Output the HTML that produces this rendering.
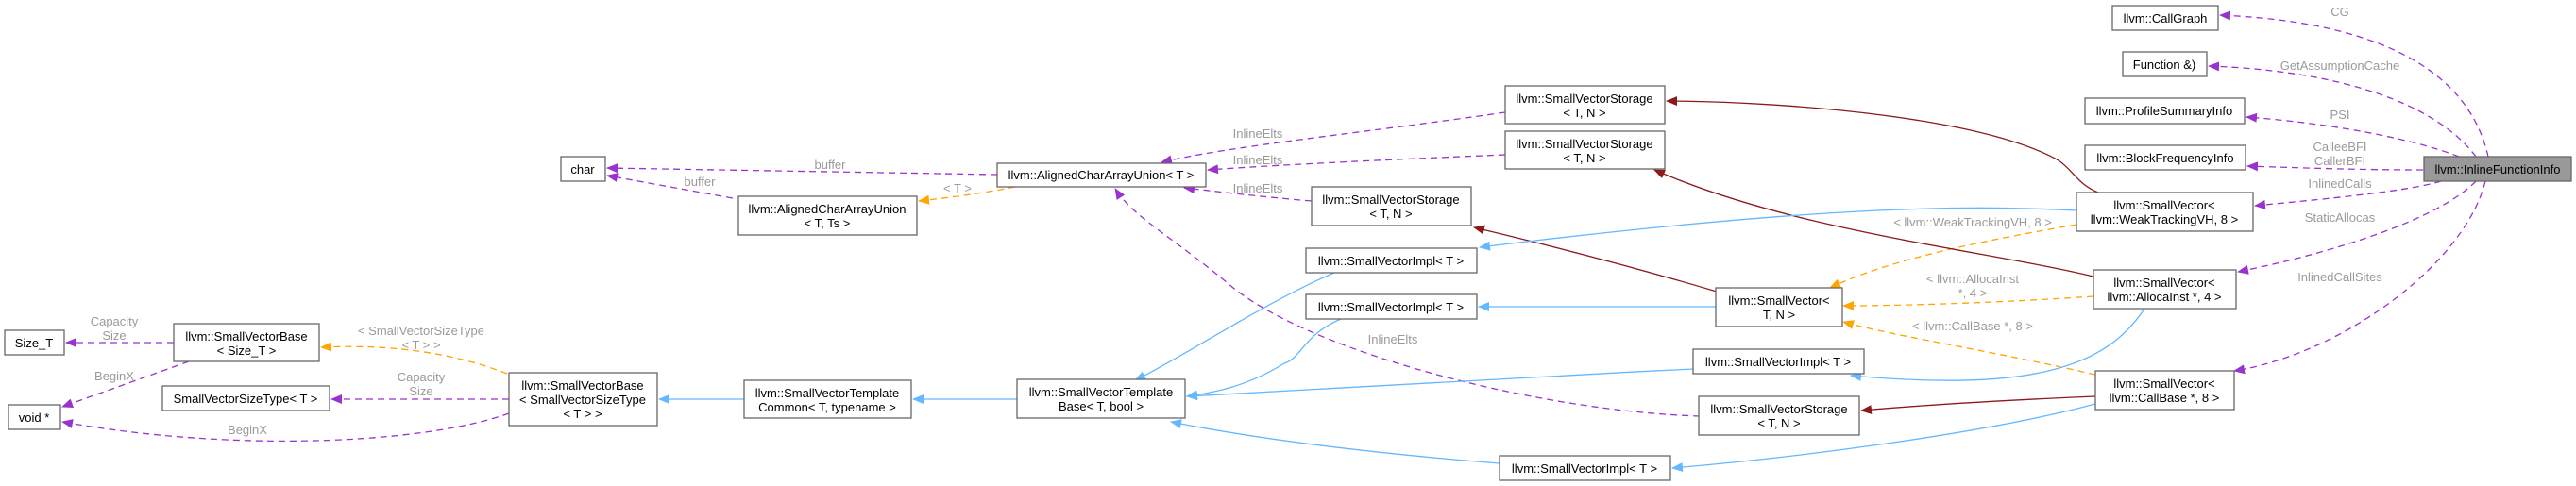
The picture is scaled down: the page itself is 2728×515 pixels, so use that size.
<!DOCTYPE html>
<html><head><meta charset="utf-8"><style>
html,body{margin:0;padding:0;background:#fff;}
svg{display:block;}
text{font-family:"Liberation Sans",Arial,sans-serif;font-size:13px;}
.n{fill:#fff;stroke:#666;stroke-width:1.3;}
.t{fill:#000;text-anchor:middle;}
.l{fill:#9a9a9a;text-anchor:middle;}
.p{fill:none;stroke:#9a32cd;stroke-width:1.3;stroke-dasharray:7,5;}
.o{fill:none;stroke:#ffa500;stroke-width:1.3;stroke-dasharray:7,5;}
.b{fill:none;stroke:#63b8ff;stroke-width:1.3;}
.r{fill:none;stroke:#8b1a1a;stroke-width:1.3;}
</style></head><body>
<svg width="2728" height="515" viewBox="0 0 2728 515" xmlns="http://www.w3.org/2000/svg">
<defs>
<marker id="mp" markerWidth="12" markerHeight="10" refX="11" refY="5" orient="auto" markerUnits="userSpaceOnUse"><path d="M0,0 L12,5 L0,10 z" fill="#9a32cd"/></marker>
<marker id="mo" markerWidth="12" markerHeight="10" refX="11" refY="5" orient="auto" markerUnits="userSpaceOnUse"><path d="M0,0 L12,5 L0,10 z" fill="#ffa500"/></marker>
<marker id="mb" markerWidth="12" markerHeight="10" refX="11" refY="5" orient="auto" markerUnits="userSpaceOnUse"><path d="M0,0 L12,5 L0,10 z" fill="#63b8ff"/></marker>
<marker id="mr" markerWidth="12" markerHeight="10" refX="11" refY="5" orient="auto" markerUnits="userSpaceOnUse"><path d="M0,0 L12,5 L0,10 z" fill="#8b1a1a"/></marker>
</defs>

<!-- purple edges from InlineFunctionInfo -->
<path class="p" marker-end="url(#mp)" d="M2635,166 C2620,100 2560,25 2351,16"/>
<path class="p" marker-end="url(#mp)" d="M2622,166 C2580,110 2480,75 2339,70"/>
<path class="p" marker-end="url(#mp)" d="M2604,166 C2550,145 2460,130 2379,124"/>
<path class="p" marker-end="url(#mp)" d="M2566,180 C2500,180 2440,178 2380,176"/>
<path class="p" marker-end="url(#mp)" d="M2585,192 C2550,203 2450,212 2388,218"/>
<path class="p" marker-end="url(#mp)" d="M2622,192 C2580,235 2460,270 2370,288"/>
<path class="p" marker-end="url(#mp)" d="M2632,192 C2610,280 2480,375 2366,393"/>
<text class="l" x="2478" y="17">CG</text>
<text class="l" x="2478" y="74">GetAssumptionCache</text>
<text class="l" x="2478" y="126">PSI</text>
<text class="l" x="2478" y="160">CalleeBFI</text>
<text class="l" x="2478" y="175">CallerBFI</text>
<text class="l" x="2478" y="199">InlinedCalls</text>
<text class="l" x="2478" y="235">StaticAllocas</text>
<text class="l" x="2478" y="298">InlinedCallSites</text>

<!-- purple others -->
<path class="p" marker-end="url(#mp)" d="M1056,185 L643,178"/>
<text class="l" x="879" y="179">buffer</text>
<path class="p" marker-end="url(#mp)" d="M776,210 L643,186"/>
<text class="l" x="741" y="197">buffer</text>
<path class="p" marker-end="url(#mp)" d="M1594,119 C1450,140 1300,155 1230,172"/>
<text class="l" x="1332" y="146">InlineElts</text>
<path class="p" marker-end="url(#mp)" d="M1594,164 C1450,170 1350,175 1279,180"/>
<text class="l" x="1332" y="174">InlineElts</text>
<path class="p" marker-end="url(#mp)" d="M1389,213 C1330,208 1290,203 1254,199"/>
<text class="l" x="1332" y="204">InlineElts</text>
<path class="p" marker-end="url(#mp)" d="M1800,441 C1620,435 1380,370 1300,300 C1240,250 1200,230 1181,200"/>
<text class="l" x="1475" y="364">InlineElts</text>
<path class="p" marker-end="url(#mp)" d="M184,363 L70,363"/>
<text class="l" x="121" y="345">Capacity</text>
<text class="l" x="121" y="360">Size</text>
<path class="p" marker-end="url(#mp)" d="M200,383 L66,431"/>
<text class="l" x="121" y="403">BeginX</text>
<path class="p" marker-end="url(#mp)" d="M539,423 L351,423"/>
<text class="l" x="446" y="404">Capacity</text>
<text class="l" x="446" y="419">Size</text>
<path class="p" marker-end="url(#mp)" d="M539,438 C450,470 250,480 66,447"/>
<text class="l" x="262" y="460">BeginX</text>

<!-- orange -->
<path class="o" marker-end="url(#mo)" d="M537,396 C470,370 400,365 340,368"/>
<text class="l" x="446" y="355">&lt; SmallVectorSizeType</text>
<text class="l" x="446" y="370">&lt; T &gt; &gt;</text>
<path class="o" marker-end="url(#mo)" d="M1075,198 C1040,205 1000,210 973,213"/>
<text class="l" x="1014" y="204">&lt; T &gt;</text>
<path class="o" marker-end="url(#mo)" d="M2199,238 C2100,255 2000,275 1938,305"/>
<text class="l" x="2089" y="240">&lt; llvm::WeakTrackingVH, 8 &gt;</text>
<path class="o" marker-end="url(#mo)" d="M2217,314 C2100,322 2000,324 1952,324"/>
<text class="l" x="2089" y="300">&lt; llvm::AllocaInst</text>
<text class="l" x="2089" y="315">*, 4 &gt;</text>
<path class="o" marker-end="url(#mo)" d="M2219,397 C2100,370 2000,355 1952,341"/>
<text class="l" x="2089" y="350">&lt; llvm::CallBase *, 8 &gt;</text>

<!-- dark red -->
<path class="r" marker-end="url(#mr)" d="M2222,204 C2200,195 2195,180 2180,170 C2100,125 1900,108 1765,107"/>
<path class="r" marker-end="url(#mr)" d="M2217,293 C2100,265 1900,245 1752,180"/>
<path class="r" marker-end="url(#mr)" d="M1818,309 C1720,280 1620,255 1561,241"/>
<path class="r" marker-end="url(#mr)" d="M2219,420 C2100,425 2030,430 1971,435"/>

<!-- blue -->
<path class="b" marker-end="url(#mb)" d="M2199,223 C2100,218 1950,215 1567,262"/>
<path class="b" marker-end="url(#mb)" d="M1818,325 L1566,325"/>
<path class="b" marker-end="url(#mb)" d="M2271,327 C2230,390 2150,415 1960,398"/>
<path class="b" marker-end="url(#mb)" d="M1413,289 C1340,320 1250,380 1202,403"/>
<path class="b" marker-end="url(#mb)" d="M1420,338 C1380,355 1378,380 1360,385 C1320,410 1285,416 1257,420"/>
<path class="b" marker-end="url(#mb)" d="M1794,391 C1600,400 1400,412 1257,420"/>
<path class="b" marker-end="url(#mb)" d="M1588,491 C1450,480 1330,465 1240,447"/>
<path class="b" marker-end="url(#mb)" d="M2219,428 C2100,460 1900,485 1771,496"/>
<path class="b" marker-end="url(#mb)" d="M1077,423 L967,423"/>
<path class="b" marker-end="url(#mb)" d="M788,423 L698,423"/>

<!-- nodes -->
<rect class="n" x="2237" y="6" width="112" height="26"/><text class="t" x="2293" y="24">llvm::CallGraph</text>
<rect class="n" x="2248" y="55" width="89" height="26"/><text class="t" x="2292" y="73">Function &amp;)</text>
<rect class="n" x="2208" y="104" width="169" height="27"/><text class="t" x="2292" y="122">llvm::ProfileSummaryInfo</text>
<rect class="n" x="2208" y="154" width="170" height="26"/><text class="t" x="2293" y="172">llvm::BlockFrequencyInfo</text>
<rect x="2567" y="166" width="156" height="26" fill="#999" stroke="#666" stroke-width="1.3"/><text class="t" x="2645" y="184">llvm::InlineFunctionInfo</text>
<rect class="n" x="2199" y="204" width="187" height="41"/><text class="t" x="2292" y="222">llvm::SmallVector&lt;</text><text class="t" x="2292" y="237">llvm::WeakTrackingVH, 8 &gt;</text>
<rect class="n" x="2217" y="286" width="151" height="41"/><text class="t" x="2292" y="304">llvm::SmallVector&lt;</text><text class="t" x="2292" y="319">llvm::AllocaInst *, 4 &gt;</text>
<rect class="n" x="2219" y="393" width="147" height="41"/><text class="t" x="2292" y="411">llvm::SmallVector&lt;</text><text class="t" x="2292" y="426">llvm::CallBase *, 8 &gt;</text>
<rect class="n" x="1817" y="305" width="134" height="41"/><text class="t" x="1884" y="323">llvm::SmallVector&lt;</text><text class="t" x="1884" y="338">T, N &gt;</text>
<rect class="n" x="1793" y="370" width="181" height="26"/><text class="t" x="1883" y="388">llvm::SmallVectorImpl&lt; T &gt;</text>
<rect class="n" x="1799" y="420" width="170" height="41"/><text class="t" x="1884" y="438">llvm::SmallVectorStorage</text><text class="t" x="1884" y="453">&lt; T, N &gt;</text>
<rect class="n" x="1594" y="91" width="169" height="40"/><text class="t" x="1678" y="109">llvm::SmallVectorStorage</text><text class="t" x="1678" y="124">&lt; T, N &gt;</text>
<rect class="n" x="1594" y="139" width="169" height="40"/><text class="t" x="1678" y="157">llvm::SmallVectorStorage</text><text class="t" x="1678" y="172">&lt; T, N &gt;</text>
<rect class="n" x="1056" y="173" width="221" height="25"/><text class="t" x="1166" y="190">llvm::AlignedCharArrayUnion&lt; T &gt;</text>
<rect class="n" x="1389" y="198" width="169" height="41"/><text class="t" x="1473" y="216">llvm::SmallVectorStorage</text><text class="t" x="1473" y="231">&lt; T, N &gt;</text>
<rect class="n" x="1383" y="263" width="181" height="26"/><text class="t" x="1473" y="281">llvm::SmallVectorImpl&lt; T &gt;</text>
<rect class="n" x="1383" y="312" width="181" height="26"/><text class="t" x="1473" y="330">llvm::SmallVectorImpl&lt; T &gt;</text>
<rect class="n" x="1077" y="402" width="178" height="41"/><text class="t" x="1166" y="420">llvm::SmallVectorTemplate</text><text class="t" x="1166" y="435">Base&lt; T, bool &gt;</text>
<rect class="n" x="1588" y="483" width="181" height="26"/><text class="t" x="1678" y="501">llvm::SmallVectorImpl&lt; T &gt;</text>
<rect class="n" x="594" y="166" width="47" height="26"/><text class="t" x="617" y="184">char</text>
<rect class="n" x="782" y="208" width="189" height="41"/><text class="t" x="876" y="226">llvm::AlignedCharArrayUnion</text><text class="t" x="876" y="241">&lt; T, Ts &gt;</text>
<rect class="n" x="5" y="350" width="63" height="26"/><text class="t" x="36" y="368">Size_T</text>
<rect class="n" x="184" y="343" width="154" height="40"/><text class="t" x="261" y="361">llvm::SmallVectorBase</text><text class="t" x="261" y="376">&lt; Size_T &gt;</text>
<rect class="n" x="9" y="429" width="55" height="26"/><text class="t" x="36" y="447">void *</text>
<rect class="n" x="172" y="409" width="177" height="26"/><text class="t" x="260" y="427">SmallVectorSizeType&lt; T &gt;</text>
<rect class="n" x="539" y="395" width="157" height="56"/><text class="t" x="617" y="413">llvm::SmallVectorBase</text><text class="t" x="617" y="428">&lt; SmallVectorSizeType</text><text class="t" x="617" y="443">&lt; T &gt; &gt;</text>
<rect class="n" x="788" y="403" width="177" height="40"/><text class="t" x="876" y="421">llvm::SmallVectorTemplate</text><text class="t" x="876" y="436">Common&lt; T, typename &gt;</text>
</svg>
</body></html>
